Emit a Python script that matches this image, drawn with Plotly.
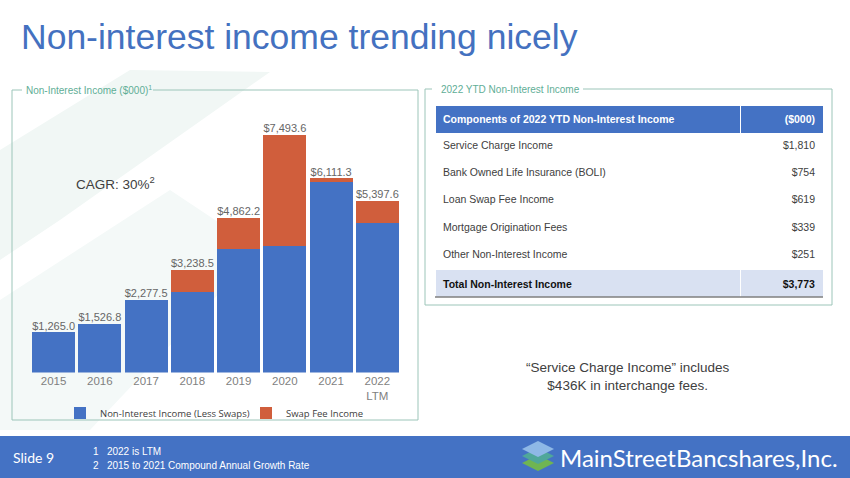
import plotly.graph_objects as go

# ---------------- data ----------------
years = ["2015", "2016", "2017", "2018", "2019", "2020", "2021", "2022<br>LTM"]
base_income = [1265.0, 1526.8, 2277.5, 2521.0, 3885.0, 3975.0, 6011.0, 4696.0]
swap_income = [0.0, 0.0, 0.0, 717.5, 977.2, 3518.6, 100.3, 701.6]
totals = [1265.0, 1526.8, 2277.5, 3238.5, 4862.2, 7493.6, 6111.3, 5397.6]
total_labels = ["$1,265.0", "$1,526.8", "$2,277.5", "$3,238.5", "$4,862.2",
                "$7,493.6", "$6,111.3", "$5,397.6"]
series_names = ["Non-Interest Income (Less Swaps)", "Swap Fee Income"]

table_header = ["<b>Components of 2022 YTD Non-Interest Income</b>", "<b>($000)</b>"]
components = ["Service Charge Income", "Bank Owned Life Insurance (BOLI)",
              "Loan Swap Fee Income", "Mortgage Origination Fees",
              "Other Non-Interest Income", "<b>Total Non-Interest Income</b>"]
component_values = ["$1,810", "$754", "$619", "$339", "$251", "<b>$3,773</b>"]

# ---------------- helpers ----------------
W, H = 850, 478
def px(x):
    return x / W
def py(y):
    return 1 - y / H

BLUE = "#4472C4"
ORANGE = "#D05E3C"
FRAME = "#9CC5B9"
TEAL_TXT = "#5FAE96"
SANS = "Liberation Sans, Arial, sans-serif"

fig = go.Figure()

fig.add_trace(go.Bar(x=years, y=base_income, name=series_names[0],
                     marker=dict(color=BLUE, line=dict(width=0)), hoverinfo="y"))
fig.add_trace(go.Bar(x=years, y=swap_income, name=series_names[1],
                     marker=dict(color=ORANGE, line=dict(width=0)), hoverinfo="y"))
fig.add_trace(go.Scatter(x=years, y=totals, mode="text", text=total_labels,
                         textposition="top center", showlegend=False,
                         textfont=dict(family=SANS, size=11, color="#666666"),
                         hoverinfo="skip"))

fig.add_trace(go.Table(
    domain=dict(x=[px(435), px(823)], y=[py(305), py(105)]),
    columnwidth=[305, 83],
    header=dict(values=table_header, fill_color=BLUE, height=27,
                align=["left", "right"], line=dict(color="white", width=1),
                font=dict(family=SANS, size=10.5, color="white")),
    cells=dict(values=[components, component_values], height=27.3,
               align=["left", "right"], line=dict(color="white", width=1),
               fill_color=[["white"] * 5 + ["#D9E1F2"], ["white"] * 5 + ["#D9E1F2"]],
               font=dict(family=SANS, size=10.5,
                         color=[["#404040"] * 5 + ["#111111"], ["#404040"] * 5 + ["#111111"]])),
))

shapes = []
# faint background decoration
shapes.append(dict(type="path", xref="paper", yref="paper", layer="below",
                   path=f"M {px(0)},{py(150)} L {px(130)},{py(70)} L {px(270)},{py(72)} "
                        f"L {px(60)},{py(220)} L {px(0)},{py(260)} Z",
                   fillcolor="#F1F7F5", line=dict(width=0)))
shapes.append(dict(type="path", xref="paper", yref="paper", layer="below",
                   path=f"M {px(0)},{py(300)} L {px(170)},{py(190)} L {px(260)},{py(250)} "
                        f"L {px(90)},{py(430)} L {px(0)},{py(430)} Z",
                   fillcolor="#F4F9F8", line=dict(width=0)))
# footer band
shapes.append(dict(type="rect", xref="paper", yref="paper", layer="below",
                   x0=0, x1=1, y0=0, y1=py(436), fillcolor="#4472C4", line=dict(width=0)))

def seg(x0, y0, x1, y1, color=FRAME, width=1):
    shapes.append(dict(type="line", xref="paper", yref="paper",
                       x0=px(x0), y0=py(y0), x1=px(x1), y1=py(y1),
                       line=dict(color=color, width=width)))

# left panel frame
seg(12, 90, 22, 90); seg(153, 90, 418, 90)
seg(12, 90, 12, 420); seg(418, 90, 418, 420); seg(12, 420, 418, 420)
# right panel frame
seg(425, 89, 432, 89); seg(583, 89, 832, 89)
seg(425, 89, 425, 305); seg(832, 89, 832, 305); seg(425, 305, 832, 305)
# table bottom rule
seg(435, 297, 823, 297, color="#7F7F7F", width=1.5)

# logo icon (stacked diamonds)
def diamond(cx, cy, w, h, color):
    shapes.append(dict(type="path", xref="paper", yref="paper",
                       path=f"M {px(cx - w/2)},{py(cy)} L {px(cx)},{py(cy - h/2)} "
                            f"L {px(cx + w/2)},{py(cy)} L {px(cx)},{py(cy + h/2)} Z",
                       fillcolor=color, line=dict(width=0)))
diamond(538, 463, 32, 16, "#6FB552")
diamond(538, 456, 32, 16, "#4FA79A")
diamond(538, 449, 32, 16, "#8EB8E6")

annotations = []
def text(x, y, s, size, color, family=SANS, xanchor="left", yanchor="middle", align="left"):
    annotations.append(dict(x=px(x), y=py(y), xref="paper", yref="paper", text=s,
                            showarrow=False, xanchor=xanchor, yanchor=yanchor, align=align,
                            font=dict(family=family, size=size, color=color)))

text(19, 37, "Non-interest income trending nicely", 35.5, "#4471C0")
text(24, 90, "Non-Interest Income ($000)<sup>1</sup>", 10, TEAL_TXT)
text(439, 89, "2022 YTD Non-Interest Income", 10, TEAL_TXT)
text(74, 183, "CAGR: 30%<sup>2</sup>", 13.5, "#404040")
text(628, 376, "“Service Charge Income” includes<br>$436K in interchange fees.", 13.5,
     "#404040", xanchor="center", align="center")
text(11, 457, "Slide 9", 14, "white", family="Lato, Open Sans, sans-serif")
text(91, 451, "1   2022 is LTM", 10, "white", family="Liberation Sans Narrow, Arial Narrow, sans-serif")
text(91, 465, "2   2015 to 2021 Compound Annual Growth Rate", 10, "white",
     family="Liberation Sans Narrow, Arial Narrow, sans-serif")
text(558, 457, "MainStreetBancshares,Inc.", 24, "white", family="Lato, Open Sans, sans-serif")

fig.update_layout(
    width=W, height=H, margin=dict(l=0, r=0, t=0, b=0),
    paper_bgcolor="white", plot_bgcolor="rgba(0,0,0,0)",
    barmode="stack", bargap=0.075,
    showlegend=True,
    legend=dict(orientation="h", x=px(60), y=py(413), xanchor="left", yanchor="middle",
                font=dict(family="Open Sans, sans-serif", size=9.5, color="#404040"),
                bgcolor="rgba(0,0,0,0)", entrywidth=141, entrywidthmode="pixels",
                itemwidth=30, traceorder="normal"),
    xaxis=dict(domain=[px(30.5), px(400.5)], range=[-0.5, 7.5], showgrid=False,
               showline=False, zeroline=False, ticks="",
               tickfont=dict(family=SANS, size=11.5, color="#7F7F7F"), fixedrange=True),
    yaxis=dict(domain=[py(372.5), py(105)], range=[0, 8426], visible=False,
               showgrid=False, zeroline=False, fixedrange=True),
    shapes=shapes, annotations=annotations,
)

fig.write_html("out.html", config={"displayModeBar": False},
               post_script="document.body.style.margin='0';document.body.style.overflow='hidden';")
